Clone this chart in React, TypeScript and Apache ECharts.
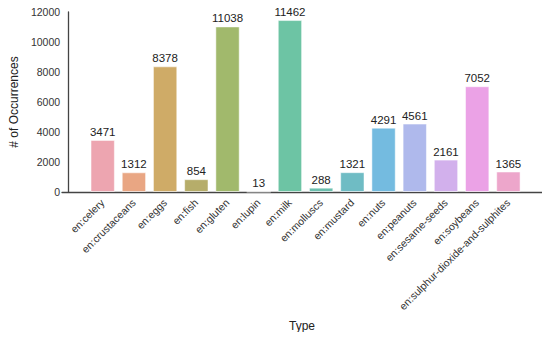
import React, { useEffect, useRef } from "react";
import * as echarts from "echarts";

const categories = [
  "en:celery",
  "en:crustaceans",
  "en:eggs",
  "en:fish",
  "en:gluten",
  "en:lupin",
  "en:milk",
  "en:molluscs",
  "en:mustard",
  "en:nuts",
  "en:peanuts",
  "en:sesame-seeds",
  "en:soybeans",
  "en:sulphur-dioxide-and-sulphites",
];
const counts = [3471, 1312, 8378, 854, 11038, 13, 11462, 288, 1321, 4291, 4561, 2161, 7052, 1365];
const colors = [
  "#eda5b0",
  "#e9a683",
  "#cfab67",
  "#b6ad6a",
  "#a1b96c",
  "#86bf75",
  "#6dc4a4",
  "#6cbfae",
  "#6fbcc4",
  "#74bbe0",
  "#afb9ec",
  "#d2b0ec",
  "#eba2e6",
  "#eda6cb",
];
const yTicks = { min: 0, max: 12000, interval: 2000 };

const FONT = "'Liberation Sans', Arial, sans-serif";

export default function App() {
  const ref = useRef<HTMLDivElement>(null);
  useEffect(() => {
    if (!ref.current) return;
    const chart = echarts.init(ref.current, undefined, { renderer: "svg" });
    chart.setOption({
      animation: false,
      textStyle: { fontFamily: FONT },
      grid: [
        { left: 81, right: 26, top: 12, bottom: 148 },
        { left: 62, right: 8, top: 12, bottom: 148 },
      ],
      xAxis: [
        {
          type: "category",
          gridIndex: 0,
          data: categories,
          axisLine: { show: false },
          axisTick: { show: false },
          axisLabel: {
            interval: 0,
            rotate: 45,
            margin: 9,
            fontSize: 10.5,
            color: "#333",
            fontFamily: FONT,
          },
        },
        {
          type: "value",
          gridIndex: 1,
          min: 0,
          max: 1,
          name: "Type",
          nameLocation: "middle",
          nameGap: 128,
          nameTextStyle: { fontSize: 12, color: "#222", fontFamily: FONT },
          axisLine: { show: true, lineStyle: { color: "#444", width: 1.3 } },
          axisTick: { show: false },
          axisLabel: { show: false },
          splitLine: { show: false },
        },
      ],
      yAxis: [
        {
          type: "value",
          gridIndex: 0,
          min: yTicks.min,
          max: yTicks.max,
          interval: yTicks.interval,
          offset: 19,
          name: "# of Occurrences",
          nameLocation: "middle",
          nameGap: 40,
          nameTextStyle: { fontSize: 12, color: "#222", fontFamily: FONT },
          axisLine: { show: true, lineStyle: { color: "#444", width: 1.3 } },
          axisTick: { show: false },
          axisLabel: {
            fontSize: 10.5,
            color: "#333",
            margin: 8,
            fontFamily: FONT,
            formatter: (v: number) => String(v),
          },
          splitLine: { show: false },
        },
        {
          type: "value",
          gridIndex: 1,
          show: false,
          min: 0,
          max: 1,
        },
      ],
      series: [
        {
          type: "bar",
          xAxisIndex: 0,
          yAxisIndex: 0,
          barWidth: "78%",
          data: counts.map((v, i) => ({ value: v, itemStyle: { color: colors[i] } })),
          itemStyle: { borderColor: "rgba(255,255,255,0.5)", borderWidth: 1 },
          label: {
            show: true,
            position: "top",
            distance: 2,
            fontSize: 11.5,
            color: "#222",
            fontFamily: FONT,
          },
        },
      ],
    });
    return () => chart.dispose();
  }, []);
  return <div ref={ref} style={{ width: 550, height: 340, margin: -8 }} />;
}
